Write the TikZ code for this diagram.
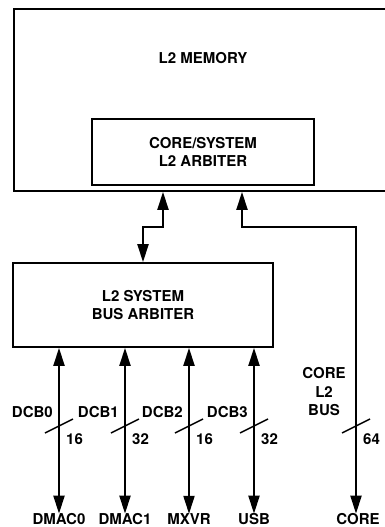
\documentclass[tikz,border=0pt]{standalone}
\usepackage{fontspec}
\setmainfont{TeX Gyre Heros}
\usetikzlibrary{arrows.meta}
\tikzset{
  blk/.style={draw, line width=1.7pt, inner sep=0pt, align=center},
  bus/.style={line width=2pt, {Triangle[width=11pt,length=18pt]}-{Triangle[width=11pt,length=18pt]}},
  lbl/.style={inner sep=0pt, align=center, font=\fontsize{15}{18.5}\selectfont\bfseries},
}
\begin{document}
\begin{tikzpicture}[x=1pt,y=1pt,yscale=-1,xscale=1]
\useasboundingbox (0,0) rectangle (385,527);
\clip (0,0) rectangle (385,527);
% memory and its arbiter
\node[blk, minimum width=386, minimum height=182] (mem) at (207,100) {};
\node[lbl] (memtxt) at (203,58) {L2 MEMORY};
\node[blk, lbl, minimum width=222, minimum height=66] (arb) at (203,152) {CORE/SYSTEM\\L2 ARBITER};
% system bus arbiter
\node[blk, lbl, minimum width=260, minimum height=84] (sys) at (143,305) {L2 SYSTEM\\BUS ARBITER};
\coordinate (j1) at (143,227);
\coordinate (j2) at (163,227);
\draw[bus] (sys.north) -- (j1) -- (j2) -- (mem.south -| j2);
% dma channels
\foreach \x/\nm/\dcb/\w in {59/DMAC0/DCB0/16, 125/DMAC1/DCB1/32, 189/MXVR/DCB2/16, 254/USB/DCB3/32}
{
  \node[lbl] (\nm) at (\x,519.5) {\nm};
  \coordinate (c\nm) at (\x,0);
  \draw[bus] (sys.south -| c\nm) -- (c\nm |- \nm.north);
  \draw[line width=1.5pt] (\x-14,433) -- (\x+14,419);
  \node[lbl, anchor=east] (l\nm) at (\x-6,412) {\dcb};
  \node[lbl, anchor=west] (w\nm) at (\x+7,439) {\w};
}
% core bus
\node[lbl] (core) at (358,519.5) {CORE};
\coordinate (j3) at (242,227);
\coordinate (j4) at (356,227);
\draw[bus] (mem.south -| j3) -- (j3) -- (j4) -- (j4 |- core.north);
\draw[line width=1.5pt] (342,433) -- (370,419);
\node[lbl] (corebus) at (324,392) {CORE\\L2\\BUS};
\node[lbl, anchor=west] (wcore) at (363,439) {64};
\end{tikzpicture}
\end{document}
